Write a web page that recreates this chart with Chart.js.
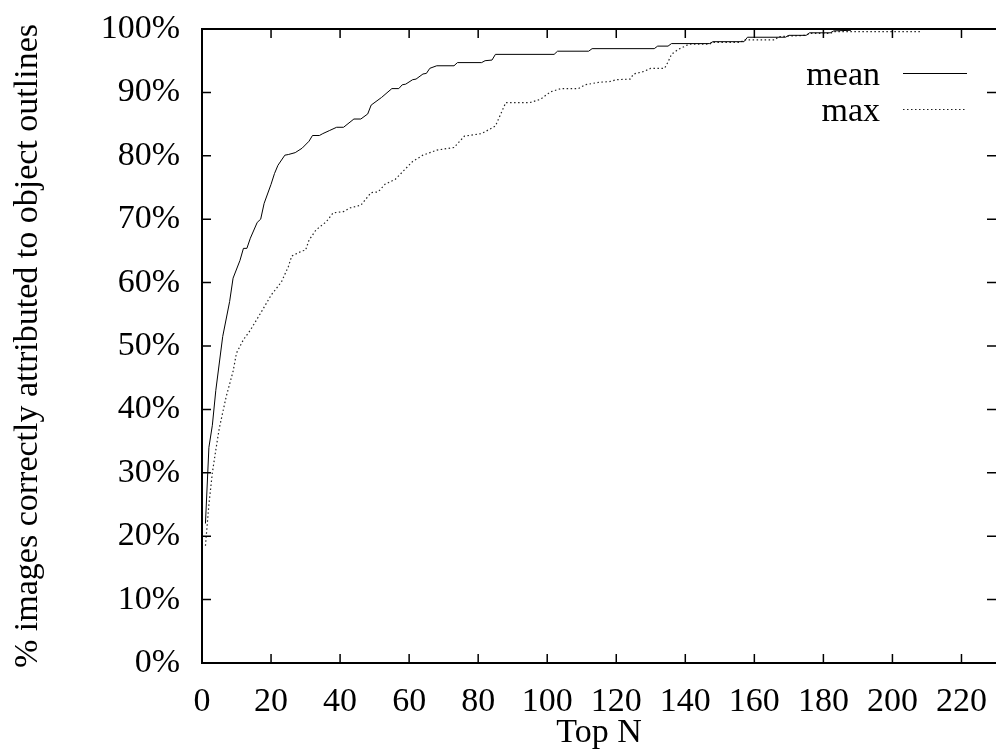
<!DOCTYPE html>
<html>
<head>
<meta charset="utf-8">
<script src="https://cdn.jsdelivr.net/npm/chart.js@4"></script>
<style>
  html, body { margin: 0; padding: 0; background: #fff; overflow: hidden; }
  #wrap { width: 1000px; height: 752px; }
</style>
</head>
<body>
<div id="wrap"><canvas id="topN" width="1000" height="752"></canvas></div>
<script>
// Top N values and % of images for each curve
const meanN = [1, 2, 3, 4, 6, 8, 9, 11, 12, 13, 14, 16, 17, 18, 20, 21, 22, 24, 25, 27, 29, 31, 32, 34, 35, 37, 39, 41, 44, 46, 48, 49, 52, 55, 57, 58, 59, 61, 62, 64, 65, 66, 68, 73, 74, 81, 82, 84, 85, 102, 103, 112, 113, 131, 132, 135, 136, 147, 148, 157, 158, 169, 170, 175, 176, 182, 183, 188];
const meanPct = [22, 34, 37.5, 43, 51.5, 57, 60.7, 63.5, 65.4, 65.4, 67, 69.5, 70, 72.5, 75.5, 77.2, 78.5, 80.1, 80.2, 80.5, 81.2, 82.3, 83.2, 83.2, 83.5, 84, 84.5, 84.5, 85.8, 85.8, 86.6, 88, 89.2, 90.6, 90.6, 91.2, 91.3, 92, 92.1, 92.9, 93, 93.8, 94.2, 94.2, 94.7, 94.7, 95, 95.1, 96, 96, 96.5, 96.5, 96.9, 96.9, 97.3, 97.3, 97.7, 97.7, 98, 98, 98.7, 98.7, 99, 99, 99.4, 99.4, 99.7, 99.8];

const maxN = [1, 2, 3, 4, 5, 7, 9, 10, 12, 14, 17, 20, 23, 25, 26, 29, 30, 31, 33, 36, 38, 41, 43, 46, 49, 51, 53, 56, 61, 64, 68, 73, 76, 81, 85, 88, 95, 98, 101, 104, 109, 111, 115, 118, 120, 124, 125, 128, 130, 134, 135, 136, 138, 140, 141, 147, 148, 156, 157, 166, 167, 175, 176, 182, 183, 208];
const maxPct = [18.5, 25, 30, 33.6, 37, 42, 46, 48.9, 51, 52.5, 55.2, 58, 60.1, 62.5, 64.2, 65, 65.1, 66.7, 68.3, 69.6, 71, 71.2, 71.8, 72.2, 74.2, 74.3, 75.5, 76.3, 79.1, 80.1, 80.9, 81.3, 83.1, 83.5, 84.7, 88.4, 88.4, 88.9, 90.1, 90.6, 90.6, 91.2, 91.6, 91.7, 92, 92.1, 92.9, 93.3, 93.8, 93.8, 94.8, 96, 96.8, 97.3, 97.6, 97.6, 97.9, 97.9, 98.3, 98.3, 98.8, 99, 99.3, 99.3, 99.6, 99.6];

const seriesNames = ["mean", "max"];
const xTickValues = [0, 20, 40, 60, 80, 100, 120, 140, 160, 180, 200, 220];
const yTickValues = [0, 10, 20, 30, 40, 50, 60, 70, 80, 90, 100];
const xLimits = [0, 230];
const yLimits = [0, 100];

const serif = "'Liberation Serif', 'Times New Roman', serif";

const toPoints = (xs, ys) => xs.map((x, i) => ({ x: x, y: ys[i] }));

// drop the label overhang padding so the plot box sits where the original does
const noOverhang = scale => {
  scale.paddingTop = 0;
  scale.paddingBottom = 0;
  scale.paddingLeft = 0;
  scale.paddingRight = 0;
};

// gnuplot style frame with inward ticks (right edge of the box is cut off in the original)
const framePlugin = {
  id: "frame",
  afterDraw(chart) {
    const { ctx, chartArea: a, scales } = chart;
    ctx.save();
    ctx.strokeStyle = "#000";
    ctx.lineWidth = 2;
    ctx.beginPath();
    ctx.moveTo(a.right + 2, a.top);
    ctx.lineTo(a.left, a.top);
    ctx.lineTo(a.left, a.bottom);
    ctx.lineTo(a.right + 2, a.bottom);
    ctx.stroke();

    ctx.lineWidth = 1.5;
    const len = 9;
    ctx.beginPath();
    scales.x.ticks.forEach(t => {
      const px = scales.x.getPixelForValue(t.value);
      ctx.moveTo(px, a.bottom); ctx.lineTo(px, a.bottom - len);
      ctx.moveTo(px, a.top); ctx.lineTo(px, a.top + len);
    });
    scales.y.ticks.forEach(t => {
      const py = scales.y.getPixelForValue(t.value);
      ctx.moveTo(a.left, py); ctx.lineTo(a.left + len, py);
      ctx.moveTo(a.right, py); ctx.lineTo(a.right - len, py);
    });
    ctx.stroke();
    ctx.restore();
  }
};

// key at top right: label text then a line sample
const keyPlugin = {
  id: "key",
  afterDraw(chart) {
    const { ctx } = chart;
    ctx.save();
    ctx.font = "34px " + serif;
    ctx.fillStyle = "#000";
    ctx.textAlign = "right";
    ctx.textBaseline = "alphabetic";
    chart.data.datasets.forEach((ds, i) => {
      const y = 73.5 + i * 36;
      ctx.fillText(ds.label, 880, y + 11.5);
      ctx.strokeStyle = ds.borderColor;
      ctx.lineWidth = ds.borderWidth;
      ctx.setLineDash(ds.borderDash || []);
      ctx.beginPath();
      ctx.moveTo(903, y);
      ctx.lineTo(967, y);
      ctx.stroke();
    });
    ctx.restore();
  }
};

new Chart(document.getElementById("topN").getContext("2d"), {
  type: "line",
  data: {
    datasets: [
      {
        label: seriesNames[0],
        data: toPoints(meanN, meanPct),
        borderColor: "#000",
        borderWidth: 1,
        pointRadius: 0,
        tension: 0
      },
      {
        label: seriesNames[1],
        data: toPoints(maxN, maxPct),
        borderColor: "#222",
        borderWidth: 1.2,
        borderDash: [1.5, 2.5],
        pointRadius: 0,
        tension: 0
      }
    ]
  },
  plugins: [framePlugin, keyPlugin],
  options: {
    responsive: false,
    animation: false,
    events: [],
    layout: { padding: { top: 29, right: 4, left: 0, bottom: 0 } },
    plugins: {
      legend: { display: false },
      tooltip: { enabled: false }
    },
    scales: {
      x: {
        type: "linear",
        min: xLimits[0],
        max: xLimits[1],
        grid: { display: false, drawTicks: false },
        border: { display: false },
        afterBuildTicks(scale) { scale.ticks = xTickValues.map(v => ({ value: v })); },
        ticks: {
          padding: 19,
          maxRotation: 0,
          autoSkip: false,
          color: "#000",
          font: { family: serif, size: 34 }
        },
        title: {
          display: true,
          text: "Top N",
          color: "#000",
          font: { family: serif, size: 34, lineHeight: 1.1 },
          padding: { top: 0, bottom: 0 }
        },
        afterFit(scale) { scale.height = 89; noOverhang(scale); }
      },
      y: {
        min: yLimits[0],
        max: yLimits[1],
        grid: { display: false, drawTicks: false },
        border: { display: false },
        afterBuildTicks(scale) { scale.ticks = yTickValues.map(v => ({ value: v })); },
        ticks: {
          padding: 22,
          color: "#000",
          font: { family: serif, size: 34 },
          callback: v => v + "%"
        },
        title: {
          display: true,
          text: "% images correctly attributed to object outlines",
          color: "#000",
          font: { family: serif, size: 34, lineHeight: 1.1 },
          padding: { top: 9, bottom: 0 }
        },
        afterFit(scale) { scale.width = 202; noOverhang(scale); }
      }
    }
  }
});
</script>
</body>
</html>
